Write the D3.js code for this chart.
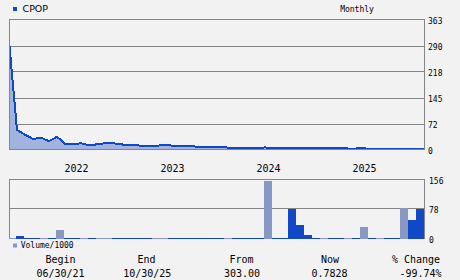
<!DOCTYPE html>
<html>
<head>
<meta charset="utf-8">
<script src="https://cdn.jsdelivr.net/npm/d3@7"></script>
<style>
  html, body { margin: 0; padding: 0; background: #f2f2f2; }
  svg { display: block; }
  text { font-family: "DejaVu Sans Mono", monospace; fill: #000; }
</style>
</head>
<body>
<svg id="chart" width="460" height="280"></svg>
<script>
// ---- data ----
const ticker = "CPOP";
const period = "Monthly";
// month-end closes, 06/30/21 .. 10/30/25
const priceValues = [303, 53, 40, 28, 31.5, 22, 34, 15, 13, 16, 10.5, 13, 16, 16, 13, 10.5, 10.5, 7.5, 7.5, 10.5,
  10.5, 7.5, 7.5, 7.5, 5, 4.7, 4.7, 4.7, 2, 2, 2, 2, 4.5, 2.5, 2.2, 2.0, 1.8, 1.9, 1.7, 1.6,
  1.5, 1.6, 1.4, 1.3, 1.5, 1.3, 1.2, 1.1, 1.0, 0.9, 1.0, 0.85, 0.7828];
// monthly volume / 1000, Jul 2021 .. Oct 2025
const volumeValues = [1, 7, 0.5, 1.5, 1.5, 1.5, 22, 1.5, 1.5, 1.5, 1.5, 1.5, 1.5, 1.5, 1.5, 1.5, 1.5, 1.5, 1.5, 1.5,
  1.5, 1.5, 1.5, 1.5, 1.5, 1.5, 1.5, 1.5, 1, 1.5, 1.5, 1.5, 151, 1, 2, 79, 36, 10, 2, 2,
  2, 2, 2, 1, 31, 1, 1, 2, 2, 80, 49, 79];
const volumeUp = [0, 1, 1, 1, 0, 1, 0, 1, 1, 0, 1, 0, 0, 1, 1, 1, 1, 1, 0, 0,
  1, 1, 1, 1, 1, 1, 1, 0, 1, 1, 1, 1, 0, 1, 1, 1, 1, 1, 1, 0,
  1, 1, 0, 1, 0, 1, 0, 1, 1, 0, 1, 1];
const priceTicks = [0, 72, 145, 218, 290, 363];
const volumeTicks = [0, 78, 156];
const yearLabels = ["2022", "2023", "2024", "2025"];
const yearIndex = [7, 19, 31, 43];
const statLabels = ["Begin", "End", "From", "Now", "% Change"];
const statValues = ["06/30/21", "10/30/25", "303.00", "0.7828", "-99.74%"];

// ---- styles ----
const BLUE = "#1048c8", GRAYBAR = "#8898c4", FILL = "#a3b3df", GRID = "#858585";

const svg = d3.select("#chart");
const left = 9.5, right = 424.5;
const x = d3.scaleLinear().domain([0, 52]).range([9, 425]);
const yP = d3.scaleLinear().domain([0, 363]).range([149.5, 19.5]);
const yV = d3.scaleLinear().domain([0, 156]).range([238.5, 179.5]);

// legend top
svg.append("rect").attr("x", 13).attr("y", 7).attr("width", 4).attr("height", 4).attr("fill", BLUE);
svg.append("text").attr("x", 22.5).attr("y", 12.3).style("font-family", "'DejaVu Sans', sans-serif")
  .style("font-size", "9.5px").text(ticker);
svg.append("text").attr("x", 357).attr("y", 11.8).attr("text-anchor", "middle").style("font-size", "8px").text(period);

// price panel
svg.append("clipPath").attr("id", "pclip").append("rect")
  .attr("x", 9).attr("y", 19).attr("width", 416).attr("height", 131);
const pg = svg.append("g");
pg.selectAll("line.grid").data(priceTicks.slice(1, -1)).join("line")
  .attr("x1", left).attr("x2", right)
  .attr("y1", d => Math.round(yP(d)) + 0.5).attr("y2", d => Math.round(yP(d)) + 0.5)
  .attr("stroke", GRID).attr("stroke-width", 1);
const idx = d3.range(priceValues.length);
pg.append("path").attr("clip-path", "url(#pclip)")
  .attr("d", d3.area().x(i => x(i)).y0(149).y1(i => yP(priceValues[i]))(idx))
  .attr("fill", FILL);
pg.append("path").attr("clip-path", "url(#pclip)")
  .attr("d", d3.line().x(i => x(i)).y(i => yP(priceValues[i]) - 0.5)(idx))
  .attr("fill", "none").attr("stroke", BLUE).attr("stroke-width", 2)
  .attr("shape-rendering", "crispEdges");
pg.append("rect").attr("x", left).attr("y", 19.5).attr("width", right - left).attr("height", 130)
  .attr("fill", "none").attr("stroke", GRID);

const axP = d3.axisRight(yP).tickValues(priceTicks).tickSize(0).tickPadding(3.5).tickFormat(d3.format("d"));
svg.append("g").attr("transform", `translate(${right},1.6)`).call(axP)
  .call(g => g.select(".domain").remove())
  .call(g => g.selectAll("text").style("font-size", "8px").style("font-family", "'DejaVu Sans Mono', monospace"));

// year labels
const axX = d3.axisBottom(x).tickValues(yearIndex).tickSize(0).tickPadding(0)
  .tickFormat((d, i) => yearLabels[i]);
svg.append("g").attr("transform", "translate(-1,165)").call(axX)
  .call(g => g.select(".domain").remove())
  .call(g => g.selectAll("text").attr("text-anchor", "start").attr("dy", "0.71em")
    .style("font-size", "10px").style("font-family", "'DejaVu Sans Mono', monospace"));

// volume panel
const vg = svg.append("g");
vg.append("line").attr("x1", left).attr("x2", right).attr("y1", 208.5).attr("y2", 208.5).attr("stroke", GRID);
vg.append("rect").attr("x", left).attr("y", 179.5).attr("width", right - left).attr("height", 59)
  .attr("fill", "none").attr("stroke", GRID);
vg.selectAll("rect.bar").data(volumeValues).join("rect").attr("class", "bar")
  .attr("x", (d, k) => Math.max(9, x(k) - 1))
  .attr("width", (d, k) => (x(k + 1) - 1) - Math.max(9, x(k) - 1))
  .attr("y", d => Math.min(238, yV(d)))
  .attr("height", d => Math.max(1, 239 - yV(d)))
  .attr("fill", (d, k) => volumeUp[k] ? BLUE : GRAYBAR)
  .attr("shape-rendering", "crispEdges");
const axV = d3.axisRight(yV).tickValues(volumeTicks).tickSize(0).tickPadding(4.5);
svg.append("g").attr("transform", `translate(${right},1.2)`).call(axV)
  .call(g => g.select(".domain").remove())
  .call(g => g.selectAll("text").style("font-size", "8px").style("font-family", "'DejaVu Sans Mono', monospace"));

// volume legend
svg.append("rect").attr("x", 13).attr("y", 243.5).attr("width", 4).attr("height", 4).attr("fill", GRAYBAR);
svg.append("text").attr("x", 20.7).attr("y", 248.2).style("font-size", "8px").text("Volume/1000");

// stats
const statX = [60.5, 146.5, 241.5, 330, 416];
svg.selectAll("text.lab").data(statLabels).join("text").attr("class", "lab")
  .attr("x", (d, i) => statX[i]).attr("y", 262.9).attr("text-anchor", "middle")
  .style("font-size", "10px").text(d => d);
const statX2 = [60.5, 147.3, 242, 329.5, 420.5];
svg.selectAll("text.val").data(statValues).join("text").attr("class", "val")
  .attr("x", (d, i) => statX2[i]).attr("y", 276.9).attr("text-anchor", "middle")
  .style("font-size", "10px").text(d => d);
</script>
</body>
</html>
